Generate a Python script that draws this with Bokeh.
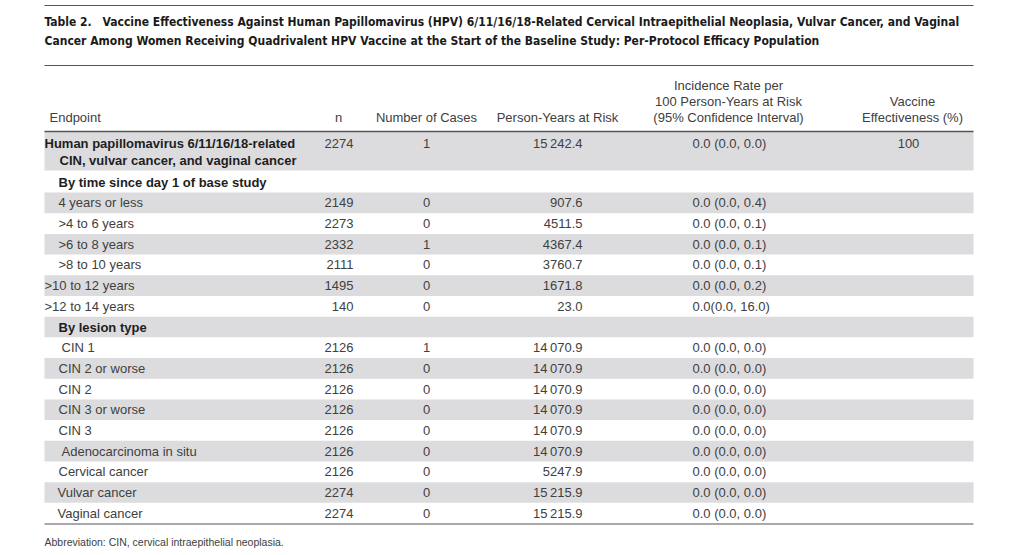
from bokeh.plotting import figure
from bokeh.models import Range1d, ColumnDataSource
from bokeh.core.properties import value
from bokeh.embed import file_html
from bokeh.resources import INLINE

# ---------------- data ----------------
title_lines = [
    "Table 2.\u2003Vaccine Effectiveness Against Human Papillomavirus (HPV) 6/11/16/18-Related Cervical Intraepithelial Neoplasia, Vulvar Cancer, and Vaginal",
    "Cancer Among Women Receiving Quadrivalent HPV Vaccine at the Start of the Baseline Study: Per-Protocol Efficacy Population",
]
footnote = "Abbreviation: CIN, cervical intraepithelial neoplasia."

overall_label = ["Human papillomavirus 6/11/16/18-related", "CIN, vulvar cancer, and vaginal cancer"]
overall_n = 2274
overall_cases = 1
overall_py = 15242.4
overall_ir = "0.0 (0.0, 0.0)"
overall_ve = "100"

endpoints = [
    "By time since day 1 of base study",
    "4 years or less", ">4 to 6 years", ">6 to 8 years", ">8 to 10 years",
    ">10 to 12 years", ">12 to 14 years",
    "By lesion type",
    "CIN 1", "CIN 2 or worse", "CIN 2", "CIN 3 or worse", "CIN 3",
    "Adenocarcinoma in situ", "Cervical cancer", "Vulvar cancer", "Vaginal cancer",
]
n_vals = [None, 2149, 2273, 2332, 2111, 1495, 140, None,
          2126, 2126, 2126, 2126, 2126, 2126, 2126, 2274, 2274]
cases = [None, 0, 0, 1, 0, 0, 0, None, 1, 0, 0, 0, 0, 0, 0, 0, 0]
person_years = [None, 907.6, 4511.5, 4367.4, 3760.7, 1671.8, 23.0, None,
                14070.9, 14070.9, 14070.9, 14070.9, 14070.9, 14070.9, 5247.9, 15215.9, 15215.9]
incidence = [None, "0.0 (0.0, 0.4)", "0.0 (0.0, 0.1)", "0.0 (0.0, 0.1)", "0.0 (0.0, 0.1)",
             "0.0 (0.0, 0.2)", "0.0(0.0, 16.0)", None,
             "0.0 (0.0, 0.0)", "0.0 (0.0, 0.0)", "0.0 (0.0, 0.0)", "0.0 (0.0, 0.0)", "0.0 (0.0, 0.0)",
             "0.0 (0.0, 0.0)", "0.0 (0.0, 0.0)", "0.0 (0.0, 0.0)", "0.0 (0.0, 0.0)"]

# ---------------- styles ----------------
is_section = [True, False, False, False, False, False, False, True,
              False, False, False, False, False, False, False, False, False]
indent = [14, 14, 14, 14, 14, 0, 0, 14, 17, 14, 14, 14, 14, 17, 14, 13, 13]

FONT = "Liberation Sans"
TITLE_FONT = "DejaVu Sans Condensed"
TXT = "#404040"
SHADE = "#dcdcde"
LEFT, RIGHT = 44, 973


def fmt_py(v):
    s = f"{v:.1f}"
    ip, dp = s.split(".")
    if len(ip) > 4:
        ip = ip[:-3] + "\u2009" + ip[-3:]
    return ip + "." + dp


p = figure(width=1024, height=555, output_backend="svg", toolbar_location=None,
           x_range=Range1d(0, 1024), y_range=Range1d(555, 0),
           min_border=0, outline_line_color=None)
p.axis.visible = False
p.grid.visible = False
p.background_fill_color = "white"
p.border_fill_color = "white"

# rules
p.segment(x0=[LEFT], x1=[RIGHT], y0=[5], y1=[5], line_color="#555555", line_width=1)
p.segment(x0=[LEFT], x1=[RIGHT], y0=[65], y1=[65], line_color="#555555", line_width=1)

# title
p.text(x=[LEFT, LEFT], y=[21, 40], text=title_lines, text_font=value(TITLE_FONT),
       text_font_style="bold", text_font_size="12px", text_color="#1a1a1a",
       text_baseline="middle", text_align="left")

# header
hs = dict(text_font=value(FONT), text_font_size="13px", text_color=TXT, text_baseline="middle")
p.text(x=[49], y=[117], text=["Endpoint"], text_align="left", **hs)
p.text(x=[338], y=[117], text=["n"], text_align="center", **hs)
p.text(x=[426], y=[117], text=["Number of Cases"], text_align="center", **hs)
p.text(x=[557], y=[117], text=["Person-Years at Risk"], text_align="center", **hs)
p.text(x=[728, 728, 728], y=[85, 101, 117],
       text=["Incidence Rate per", "100 Person-Years at Risk", "(95% Confidence Interval)"],
       text_align="center", **hs)
p.text(x=[912, 912], y=[101, 117], text=["Vaccine", "Effectiveness (%)"], text_align="center", **hs)

# overall row (shaded)
p.quad(left=[LEFT], right=[RIGHT], top=[131], bottom=[170], fill_color=SHADE, line_color=None)
p.segment(x0=[LEFT], x1=[RIGHT], y0=[131], y1=[131], line_color="#555555", line_width=1.5)
bs = dict(text_font=value(FONT), text_font_size="13px", text_color="#1e1e1e",
          text_font_style="bold", text_baseline="middle", text_align="left")
p.text(x=[LEFT, LEFT + 15], y=[143, 160], text=overall_label, **bs)
p.text(x=[353], y=[143], text=[str(overall_n)], text_align="right", **hs)
p.text(x=[426], y=[143], text=[str(overall_cases)], text_align="center", **hs)
p.text(x=[582], y=[143], text=[fmt_py(overall_py)], text_align="right", **hs)
p.text(x=[692], y=[143], text=[overall_ir], text_align="left", **hs)
p.text(x=[908], y=[143], text=[overall_ve], text_align="center", **hs)

# body rows
top0 = 170
first_h = 22.0
rows_y0, rows_y1, ys = [], [], []
step = (523 - top0 - first_h) / (len(endpoints) - 1)
for i in range(len(endpoints)):
    if i == 0:
        y0, y1 = top0, top0 + first_h
    else:
        y0 = top0 + first_h + (i - 1) * step
        y1 = top0 + first_h + i * step
    rows_y0.append(y0)
    rows_y1.append(y1)
    ys.append((y0 + y1) / 2)

shade_idx = [i for i in range(len(endpoints)) if i % 2 == 1]
p.quad(left=[LEFT] * len(shade_idx), right=[RIGHT] * len(shade_idx),
       top=[rows_y0[i] for i in shade_idx], bottom=[rows_y1[i] for i in shade_idx],
       fill_color=SHADE, line_color=None)

src_norm = ColumnDataSource(dict(
    x=[LEFT + indent[i] for i in range(len(endpoints)) if not is_section[i]],
    y=[ys[i] for i in range(len(endpoints)) if not is_section[i]],
    t=[endpoints[i] for i in range(len(endpoints)) if not is_section[i]],
))
p.text(x="x", y="y", text="t", source=src_norm, text_align="left", **hs)
src_sec = ColumnDataSource(dict(
    x=[LEFT + indent[i] for i in range(len(endpoints)) if is_section[i]],
    y=[ys[i] + 0.5 for i in range(len(endpoints)) if is_section[i]],
    t=[endpoints[i] for i in range(len(endpoints)) if is_section[i]],
))
p.text(x="x", y="y", text="t", source=src_sec, **bs)

idx = [i for i in range(len(endpoints)) if n_vals[i] is not None]
ry = [ys[i] for i in idx]
p.text(x=[353] * len(idx), y=ry, text=[str(n_vals[i]) for i in idx], text_align="right", **hs)
p.text(x=[426] * len(idx), y=ry, text=[str(cases[i]) for i in idx], text_align="center", **hs)
p.text(x=[582] * len(idx), y=ry, text=[fmt_py(person_years[i]) for i in idx], text_align="right", **hs)
p.text(x=[692] * len(idx), y=ry, text=[incidence[i] for i in idx], text_align="left", **hs)

p.segment(x0=[LEFT], x1=[RIGHT], y0=[523.5], y1=[523.5], line_color="#555555", line_width=1.2)

p.text(x=[LEFT], y=[541], text=[footnote], text_font=value(FONT), text_font_size="10.5px",
       text_color=TXT, text_baseline="middle", text_align="left")

open("out.html", "w").write(file_html(p, INLINE))
